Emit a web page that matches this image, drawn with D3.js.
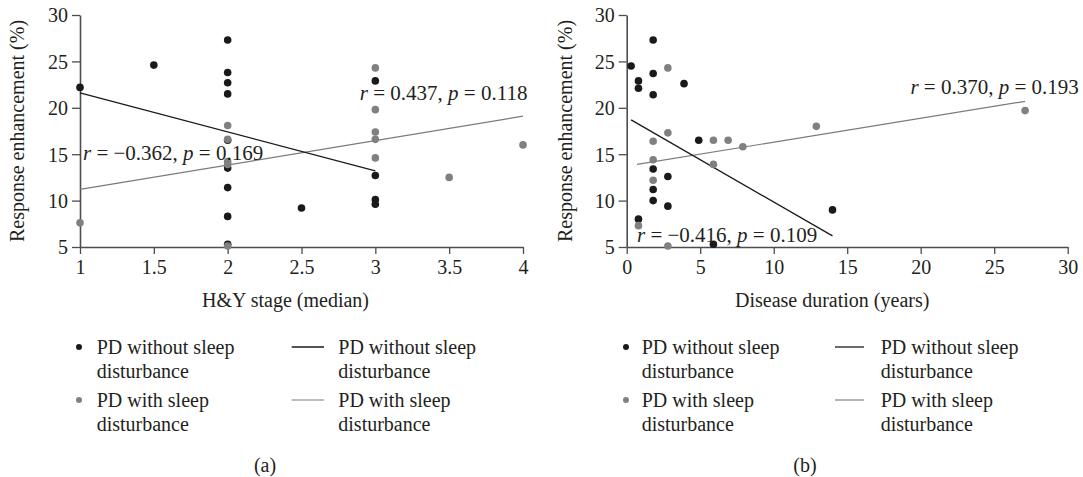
<!DOCTYPE html>
<html>
<head>
<meta charset="utf-8">
<script src="https://cdn.jsdelivr.net/npm/d3@7"></script>
<style>
  html, body { margin: 0; padding: 0; background: #fff; }
  svg text { font-family: "Liberation Serif", "DejaVu Serif", serif; fill: #231f20; }
</style>
</head>
<body>
<svg id="chart" width="1083" height="477"></svg>
<script>
// ---------- data ----------
// Panel (a): H&Y stage vs response enhancement
const hyWithoutX = [1, 1.5, 2, 2, 2, 2, 2, 2, 2, 2, 2, 2.5, 3, 3, 3, 3];
const hyWithoutY = [22.2, 24.6, 27.3, 23.8, 22.7, 21.5, 16.5, 13.5, 11.4, 8.3, 5.3, 9.2, 22.9, 12.7, 10.1, 9.6];
const hyWithX = [1, 2, 2, 2, 2, 2, 3, 3, 3, 3, 3, 3.5, 4];
const hyWithY = [7.6, 18.1, 16.6, 14.2, 13.9, 5.1, 24.3, 19.8, 17.4, 16.6, 14.6, 12.5, 16.0];
const hyFitWithoutX = [1, 3];
const hyFitWithoutY = [21.6, 13.2];
const hyFitWithX = [1, 4];
const hyFitWithY = [11.2, 19.1];
const hyTicksX = [1, 1.5, 2, 2.5, 3, 3.5, 4];

// Panel (b): disease duration vs response enhancement
const durWithoutX = [0.3, 0.8, 0.8, 1.8, 1.8, 1.8, 3.9, 4.9, 1.8, 1.8, 1.8, 2.8, 2.8, 0.8, 5.9, 14.0];
const durWithoutY = [24.5, 22.9, 22.1, 27.3, 23.7, 21.4, 22.6, 16.5, 13.4, 11.2, 10.0, 12.6, 9.4, 8.0, 5.3, 9.0];
const durWithX = [2.8, 2.8, 1.8, 1.8, 1.8, 0.8, 2.8, 5.9, 5.9, 6.9, 7.9, 12.9, 27.1];
const durWithY = [24.3, 17.3, 16.4, 14.4, 12.2, 7.3, 5.1, 16.5, 13.9, 16.5, 15.8, 18.0, 19.7];
const durFitWithoutX = [0.3, 14.0];
const durFitWithoutY = [18.7, 6.2];
const durFitWithX = [0.7, 27.1];
const durFitWithY = [13.9, 20.7];
const durTicksX = [0, 5, 10, 15, 20, 25, 30];

const yTicks = [5, 10, 15, 20, 25, 30];
const legendLabels = [["PD without sleep", "disturbance"], ["PD with sleep", "disturbance"]];
const annotations = {
  a: [{ r: "−0.362", p: "0.169" }, { r: "0.437", p: "0.118" }],
  b: [{ r: "−0.416", p: "0.109" }, { r: "0.370", p: "0.193" }]
};

// ---------- styles ----------
const BLACK = "#1a1a1a";
const GREY = "#808080";
const AXIS = "#4d4d4d";
const FONT = 20;

const svg = d3.select("#chart");

function zip(xs, ys) { return xs.map((x, i) => ({ x, y: ys[i] })); }

function panel(cfg) {
  const g = svg.append("g");
  const x = d3.scaleLinear().domain(cfg.xDomain).range(cfg.xRange);
  const y = d3.scaleLinear().domain([5, 30]).range([247, 15]);

  // axes
  const yAxis = d3.axisLeft(y).tickValues(yTicks).tickSize(8).tickSizeOuter(0).tickPadding(4).tickFormat(d3.format("d"));
  const gy = g.append("g").attr("transform", `translate(${cfg.xRange[0]},0)`).call(yAxis);
  const xAxis = d3.axisBottom(x).tickValues(cfg.ticks).tickSize(7).tickSizeOuter(0).tickPadding(6).tickFormat(d => String(d));
  const gx = g.append("g").attr("transform", `translate(0,247)`).call(xAxis);
  [gx, gy].forEach(a => {
    a.select(".domain").attr("stroke", AXIS).attr("stroke-width", 1.6);
    a.selectAll(".tick line").attr("stroke", AXIS).attr("stroke-width", 1.3);
    a.selectAll(".tick text").attr("font-size", FONT).attr("font-family", "Liberation Serif").attr("fill", "#231f20");
  });
  gx.selectAll(".tick text").attr("dy", "0.72em");
  gy.selectAll(".tick text").attr("dy", "0.34em");

  // axis titles
  g.append("text")
    .attr("x", (cfg.xRange[0] + cfg.xRange[1]) / 2 + cfg.titleShift)
    .attr("y", 307)
    .attr("text-anchor", "middle")
    .attr("font-size", FONT)
    .text(cfg.xTitle);
  g.append("text")
    .attr("transform", `translate(${cfg.yTitleX},131) rotate(-90)`)
    .attr("text-anchor", "middle")
    .attr("font-size", FONT)
    .text("Response enhancement (%)");

  // fit lines
  const line = d3.line().x(d => x(d.x)).y(d => y(d.y));
  g.append("path").datum(zip(cfg.fitWithX, cfg.fitWithY))
    .attr("d", line).attr("fill", "none").attr("stroke", "#7a7a7a").attr("stroke-width", 1.2);
  g.append("path").datum(zip(cfg.fitWithoutX, cfg.fitWithoutY))
    .attr("d", line).attr("fill", "none").attr("stroke", BLACK).attr("stroke-width", 1.3);

  // points
  g.selectAll("circle.wo").data(zip(cfg.woX, cfg.woY)).enter().append("circle")
    .attr("class", "wo").attr("cx", d => x(d.x)).attr("cy", d => y(d.y)).attr("r", 3.8).attr("fill", BLACK);
  g.selectAll("circle.wi").data(zip(cfg.wiX, cfg.wiY)).enter().append("circle")
    .attr("class", "wi").attr("cx", d => x(d.x)).attr("cy", d => y(d.y)).attr("r", 3.8).attr("fill", GREY);

  // annotations
  cfg.ann.forEach((a, i) => {
    const pos = cfg.annPos[i];
    const t = g.append("text")
      .attr("x", x(pos[0])).attr("y", y(pos[1]))
      .attr("dy", "0.33em")
      .attr("font-size", 21);
    t.append("tspan").attr("font-style", "italic").text("r");
    t.append("tspan").text(" = " + a.r + ", ");
    t.append("tspan").attr("font-style", "italic").text("p");
    t.append("tspan").text(" = " + a.p);
  });

  // legend
  const L = cfg.legend;
  legendLabels.forEach((lab, i) => {
    const yy = 347 + i * 53;
    g.append("circle").attr("cx", L.dot).attr("cy", yy).attr("r", 3)
      .attr("fill", i === 0 ? BLACK : GREY);
    g.append("line").attr("x1", L.l1).attr("x2", L.l2).attr("y1", yy).attr("y2", yy)
      .attr("stroke", i === 0 ? BLACK : "#7a7a7a").attr("stroke-width", i === 0 ? 1.3 : 1.1);
    [L.t1, L.t2].forEach(tx => {
      lab.forEach((s, j) => {
        g.append("text").attr("x", tx).attr("y", yy + j * 24.7).attr("dy", "0.33em")
          .attr("font-size", FONT).text(s);
      });
    });
  });

  // caption
  g.append("text").attr("x", cfg.capX).attr("y", 465).attr("dy", "0.33em")
    .attr("text-anchor", "middle").attr("font-size", FONT).text(cfg.caption);
}

panel({
  xDomain: [1, 4], xRange: [80, 523], ticks: hyTicksX,
  xTitle: "H&Y stage (median)", titleShift: -16, yTitleX: 24,
  woX: hyWithoutX, woY: hyWithoutY, wiX: hyWithX, wiY: hyWithY,
  fitWithoutX: hyFitWithoutX, fitWithoutY: hyFitWithoutY,
  fitWithX: hyFitWithX, fitWithY: hyFitWithY,
  ann: annotations.a, annPos: [[1.02, 15.1], [2.895, 21.6]],
  legend: { dot: 79, t1: 96.7, l1: 291.7, l2: 324, t2: 338.3 },
  capX: 265, caption: "(a)"
});

panel({
  xDomain: [0, 30], xRange: [626.7, 1067.7], ticks: durTicksX,
  xTitle: "Disease duration (years)", titleShift: -15, yTitleX: 572,
  woX: durWithoutX, woY: durWithoutY, wiX: durWithX, wiY: durWithY,
  fitWithoutX: durFitWithoutX, fitWithoutY: durFitWithoutY,
  fitWithX: durFitWithX, fitWithY: durFitWithY,
  ann: annotations.b, annPos: [[0.7, 6.3], [19.3, 22.2]],
  legend: { dot: 626, t1: 641.7, l1: 835, l2: 864, t2: 880.7 },
  capX: 805, caption: "(b)"
});
</script>
</body>
</html>
